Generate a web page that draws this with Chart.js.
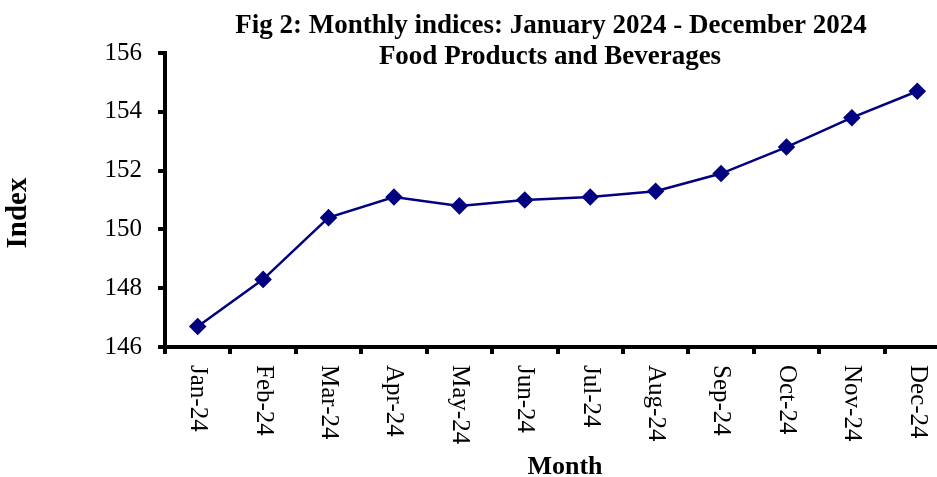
<!DOCTYPE html>
<html>
<head>
<meta charset="utf-8">
<script src="https://cdn.jsdelivr.net/npm/chart.js@4/dist/chart.umd.min.js"></script>
<style>
  html, body { margin: 0; padding: 0; overflow: hidden; background: #fff; }
  #wrap { position: relative; width: 950px; height: 477px; }
</style>
</head>
<body>
<div id="wrap"><canvas id="c"></canvas></div>
<script>
const months = ["Jan-24","Feb-24","Mar-24","Apr-24","May-24","Jun-24","Jul-24","Aug-24","Sep-24","Oct-24","Nov-24","Dec-24"];
const indexValues = [146.7, 148.3, 150.4, 151.1, 150.8, 151.0, 151.1, 151.3, 151.9, 152.8, 153.8, 154.7];
const yTicks = [146, 148, 150, 152, 154, 156];
const titleLines = ["Fig 2: Monthly indices: January 2024 - December 2024", "Food Products and Beverages"];
const xTitle = "Month";
const yTitle = "Index";

const SERIF = "'Liberation Serif', 'Times New Roman', serif";

const textPlugin = {
  id: 'textPlugin',
  afterDraw(chart) {
    const ctx = chart.ctx;
    const xs = chart.scales.x;
    const area = chart.chartArea;
    ctx.save();
    ctx.fillStyle = '#000';
    // rotated x labels (reading top to bottom)
    ctx.font = "25px " + SERIF;
    ctx.textAlign = 'left';
    ctx.textBaseline = 'middle';
    months.forEach((m, i) => {
      const x = xs.getPixelForValue(i);
      ctx.save();
      ctx.translate(x, area.bottom + 18);
      ctx.rotate(Math.PI / 2);
      ctx.fillText(m, 0, 0);
      ctx.restore();
    });
    // titles
    ctx.font = "bold 27px " + SERIF;
    ctx.textAlign = 'center';
    ctx.textBaseline = 'middle';
    ctx.fillText(titleLines[0], 551, 26);
    ctx.fillText(titleLines[1], 550, 57);
    // axis titles
    ctx.font = "bold 26px " + SERIF;
    ctx.fillText(xTitle, 565, 467);
    ctx.font = "bold 29px " + SERIF;
    ctx.save();
    ctx.translate(19, 213);
    ctx.rotate(-Math.PI / 2);
    ctx.fillText(yTitle, 0, 0);
    ctx.restore();
    ctx.restore();
  }
};

new Chart(document.getElementById('c'), {
  type: 'line',
  data: {
    labels: months,
    datasets: [{
      data: indexValues,
      borderColor: '#000080',
      backgroundColor: '#000080',
      borderWidth: 2.5,
      pointStyle: 'rectRot',
      pointRadius: 7,
      pointHoverRadius: 7,
      tension: 0,
      clip: false
    }]
  },
  options: {
    responsive: true,
    maintainAspectRatio: false,
    animation: false,
    events: [],
    layout: { autoPadding: false, padding: { left: 0, top: 53, right: 0, bottom: 0 } },
    plugins: { legend: { display: false }, tooltip: { enabled: false }, title: { display: false } },
    scales: {
      x: {
        type: 'category',
        offset: true,
        grid: { display: true, drawOnChartArea: false, drawTicks: true, tickLength: 7, lineWidth: 4, color: '#000', offset: true },
        border: { display: true, width: 4, color: '#000' },
        ticks: { display: false },
        afterFit(scale) { scale.height = 130; }
      },
      y: {
        min: 146,
        max: 156,
        afterBuildTicks(scale) { scale.ticks = yTicks.map(v => ({ value: v })); },
        grid: { display: true, drawOnChartArea: false, drawTicks: true, tickLength: 7, lineWidth: 4, color: '#000' },
        border: { display: true, width: 4, color: '#000' },
        ticks: { color: '#000', font: { family: SERIF, size: 25 }, padding: 16 },
        afterFit(scale) { scale.width = 165; }
      }
    }
  },
  plugins: [textPlugin]
});
</script>
</body>
</html>
